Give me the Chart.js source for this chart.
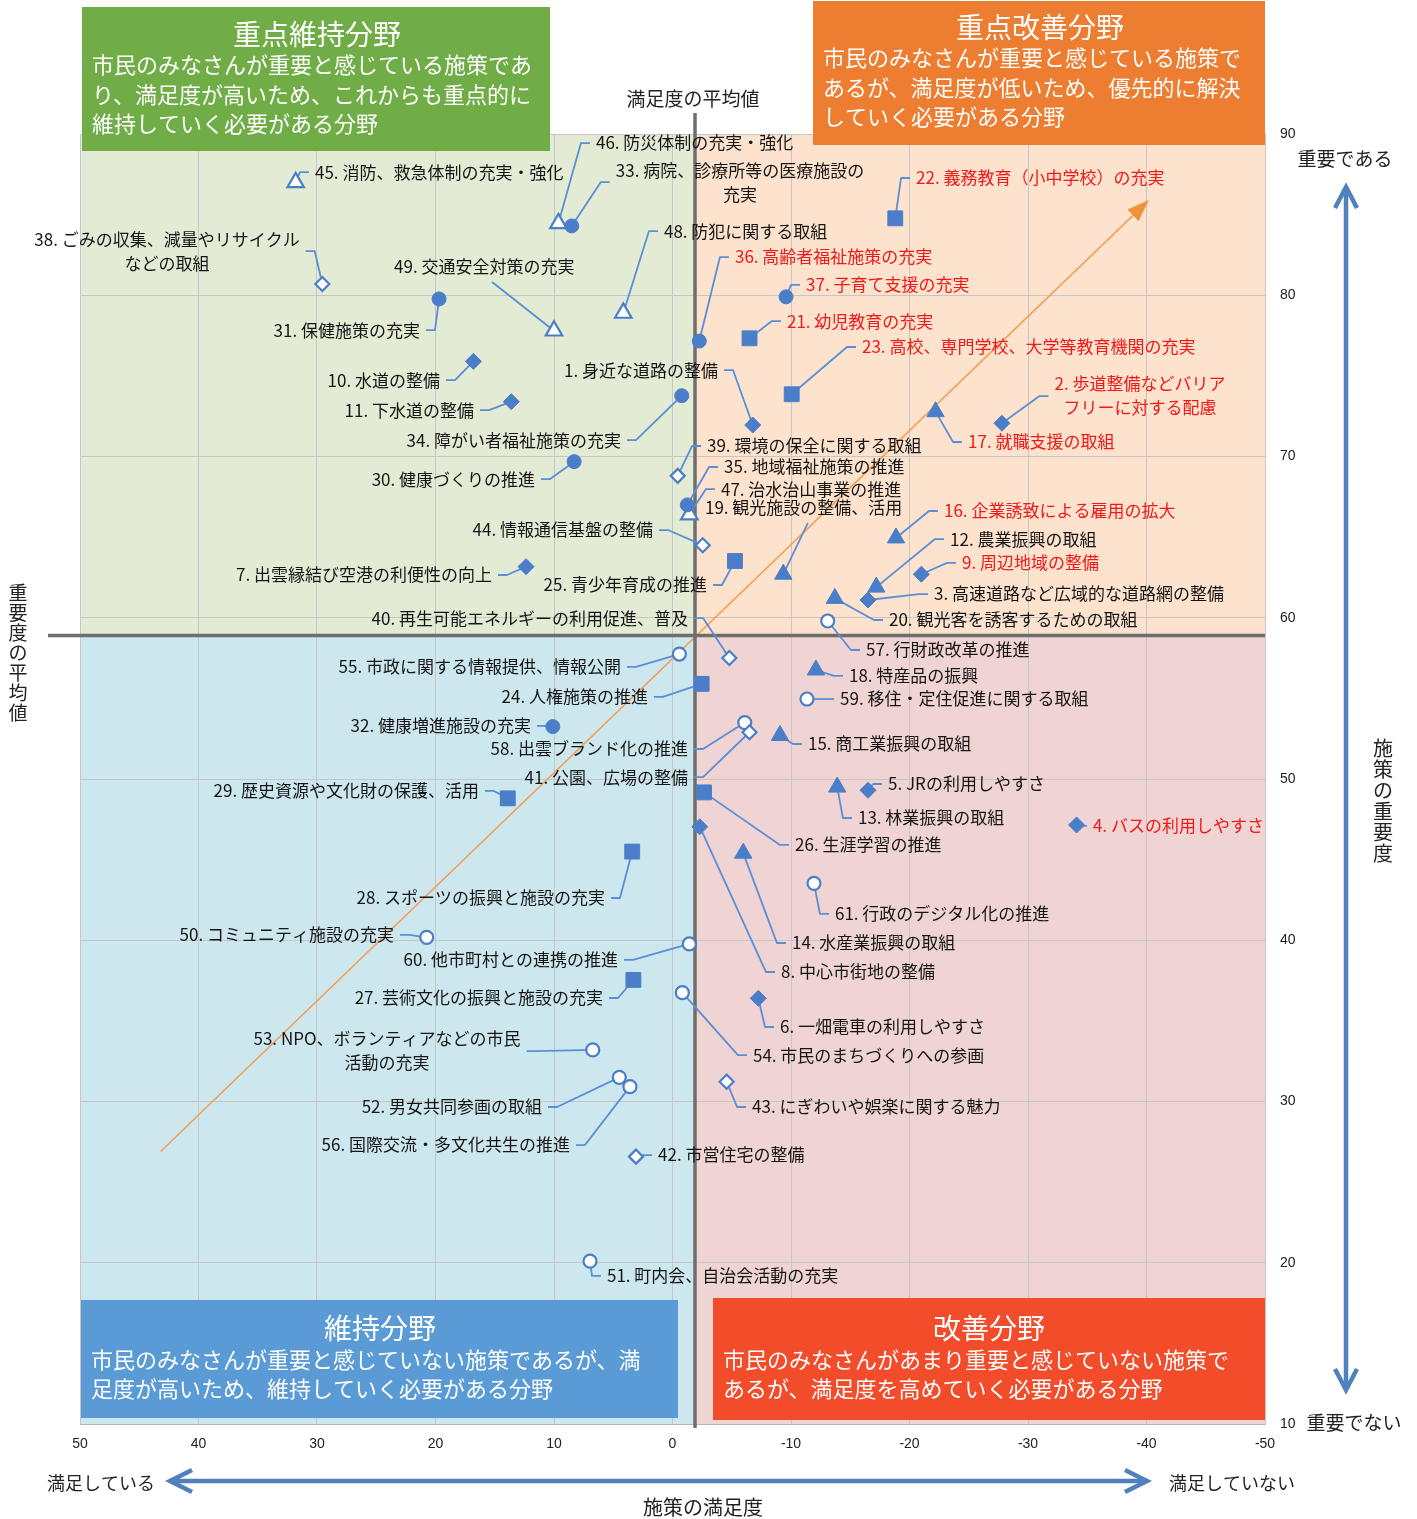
<!DOCTYPE html>
<html><head><meta charset="utf-8">
<script src="https://cdn.jsdelivr.net/npm/chart.js@4.4.1/dist/chart.umd.min.js"></script>
<style>html,body{margin:0;padding:0;background:#fff}#wrap{width:1417px;height:1519px;position:relative}</style>
</head><body><div id="wrap"><canvas id="c" width="1417" height="1519"></canvas></div>
<script>
// ---------- DATA ----------
const ids = Array.from({length: 61}, (_, k) => k + 1);
const names = [
 '身近な道路の整備','歩道整備などバリア\nフリーに対する配慮','高速道路など広域的な道路網の整備','バスの利用しやすさ','JRの利用しやすさ',
 '一畑電車の利用しやすさ','出雲縁結び空港の利便性の向上','中心市街地の整備','周辺地域の整備','水道の整備','下水道の整備',
 '農業振興の取組','林業振興の取組','水産業振興の取組','商工業振興の取組','企業誘致による雇用の拡大','就職支援の取組','特産品の振興',
 '観光施設の整備、活用','観光客を誘客するための取組',
 '幼児教育の充実','義務教育（小中学校）の充実','高校、専門学校、大学等教育機関の充実','人権施策の推進','青少年育成の推進','生涯学習の推進',
 '芸術文化の振興と施設の充実','スポーツの振興と施設の充実','歴史資源や文化財の保護、活用',
 '健康づくりの推進','保健施策の充実','健康増進施設の充実','病院、診療所等の医療施設の\n充実','障がい者福祉施策の充実','地域福祉施策の推進',
 '高齢者福祉施策の充実','子育て支援の充実',
 'ごみの収集、減量やリサイクル\nなどの取組','環境の保全に関する取組','再生可能エネルギーの利用促進、普及','公園、広場の整備','市営住宅の整備',
 'にぎわいや娯楽に関する魅力','情報通信基盤の整備',
 '消防、救急体制の充実・強化','防災体制の充実・強化','治水治山事業の推進','防犯に関する取組','交通安全対策の充実',
 'コミュニティ施設の充実','町内会、自治会活動の充実','男女共同参画の取組','NPO、ボランティアなどの市民\n活動の充実','市民のまちづくりへの参画',
 '市政に関する情報提供、情報公開','国際交流・多文化共生の推進','行財政改革の推進','出雲ブランド化の推進','移住・定住促進に関する取組',
 '他市町村との連携の推進','行政のデジタル化の推進'
];
// 施策の満足度 (x)
const satisfaction = [
 -6.77,-27.8,-16.5,-34.1,-16.5,-7.24,12.36,-2.3,-21.0,16.8,13.6,
 -17.2,-13.9,-5.97,-9.07,-18.86,-22.2,-12.1,-9.35,-13.7,
 -6.5,-18.8,-10.06,-2.46,-5.27,-2.66,3.3,3.4,13.9,
 8.3,19.7,10.1,8.5,-0.78,-1.25,-2.26,-9.58,
 29.55,-0.44,-4.8,-6.5,3.08,-4.57,-2.55,
 31.8,9.63,-1.42,4.15,10.0,
 20.74,6.96,4.49,6.73,-0.83,-0.58,3.59,-13.1,-6.1,-11.35,-1.42,-11.94
];
// 施策の重要度 (y)
const importance = [
 71.95,72.06,61.1,47.15,49.3,36.4,63.17,47.04,62.7,75.9,73.4,
 61.9,49.5,45.4,52.7,64.95,72.78,56.76,62.7,61.2,
 77.33,84.77,73.86,55.9,63.52,49.17,37.54,45.5,48.8,
 69.68,79.77,53.25,84.3,73.77,67.0,77.16,79.9,
 80.7,68.8,57.5,52.9,26.58,31.23,64.5,
 87.0,84.46,66.4,78.9,77.8,
 40.18,20.1,31.5,33.2,36.75,57.75,30.92,59.8,53.5,54.96,39.77,43.53
];
// marker group: D filled diamond, T filled triangle, S filled square, C filled circle, d/t/c hollow
const markerType = ('DDDDDDDDDDD' + 'TTTTTTTTT' + 'SSSSSSSSS' + 'CCCCCCCC' + 'ddddddd' + 'ttttt' + 'cccccccccccc').split('');
const redIds = [2,4,9,16,17,21,22,23,36,37];
const meanSatisfaction = -1.9;
const meanImportance = 58.9;
const trendX = [43.2, -40.2];
const trendY = [26.9, 85.9];
const xTickStep = 10, yTickStep = 10;

// label anchors (in data units) and alignment
const labelX = [
 -3.84,-39.45,-22.07,-35.48,-18.19,-9.07,15.23,-9.16,-24.43,19.62,16.75,
 -23.42,-15.65,-10.08,-11.43,-22.91,-24.94,-14.89,-2.74,-18.27,
 -9.66,-20.55,-15.99,2.07,-2.91,-10.34,5.86,5.70,16.33,
 11.60,21.31,11.94,-5.70,4.35,-4.35,-5.27,-11.27,
 42.66,-2.91,-1.31,-1.31,1.22,-6.71,1.65,
 30.17,6.46,-4.09,0.72,23.50,
 23.50,5.53,11.01,24.09,-6.79,4.35,8.65,-16.33,-1.31,-14.14,4.60,-13.71
];
const labelY = [
 75.36,73.75,61.47,47.09,49.69,34.62,62.65,38.03,63.40,74.74,72.88,
 64.88,47.58,39.83,52.17,66.62,70.90,56.39,66.81,59.86,
 78.40,87.27,76.79,55.09,62.03,45.91,36.42,42.62,49.26,
 68.60,77.84,53.29,87.02,71.02,69.35,82.37,80.64,
 82.74,70.65,59.98,50.12,26.68,29.66,65.44,
 87.64,89.44,67.98,83.98,81.81,
 40.33,19.18,29.66,33.13,32.88,56.95,27.30,58.0,51.86,54.96,38.78,41.63
];
const labelAlign = [
 'R','CL','L','L','L','L','R','L','L','R','R',
 'L','L','L','L','L','L','L','L','L',
 'L','L','L','R','R','L','R','R','R',
 'R','R','R','CL','R','L','L','L',
 'CR','L','R','R','L','L','R',
 'L','L','L','L','L',
 'R','L','R','CR','L','R','R','L','R','L','R','L'
];
const leaderEnd = { 19: [-11.43, 65.88], 49: [15.23, 80.82] };

// ---------- STYLE ----------
const JP = '"Noto Sans CJK JP","Noto Sans CJK SC","Noto Sans",sans-serif';
const NUM = '"Liberation Sans Narrow","Liberation Sans",Arial,sans-serif';
const BLUE = '#4a7ec8';
const LEADER = '#5a8fd6';
const LABEL_FONT = '17px ' + JP;
Chart.defaults.font.family = NUM;

const styles = {
  D:{ps:'rectRot', r:8, fill:true},
  T:{ps:'triangle', r:10, fill:true},
  S:{ps:'rect', r:10.5, fill:true},
  C:{ps:'circle', r:7, fill:true},
  d:{ps:'rectRot', r:7, fill:false},
  t:{ps:'triangle', r:9.5, fill:false},
  c:{ps:'circle', r:6.5, fill:false}
};
const datasets = Object.keys(styles).map(k => {
  const s = styles[k];
  const pts = [];
  ids.forEach((id, i) => { if (markerType[i] === k) pts.push({x: satisfaction[i], y: importance[i]}); });
  return {
    data: pts, pointStyle: s.ps, pointRadius: s.r, pointHoverRadius: s.r,
    backgroundColor: s.fill ? BLUE : '#ffffff', borderColor: BLUE,
    borderWidth: s.fill ? 1 : 2.2, showLine: false
  };
});

function layoutLabel(chart, i) {
  const {ctx, scales:{x, y}} = chart;
  ctx.font = LABEL_FONT;
  const lines = (ids[i] + '. ' + names[i]).split('\n');
  const ax = x.getPixelForValue(labelX[i]), ay = y.getPixelForValue(labelY[i]);
  const mode = labelAlign[i];
  const widths = lines.map(l => ctx.measureText(l).width);
  const w = Math.max(...widths);
  let left = mode === 'L' ? ax : mode === 'R' ? ax - w : ax - w / 2;
  const out = lines.map((l, k) => {
    const ly = ay + (k - (lines.length - 1) / 2) * 24;
    const lx = (mode === 'CL' || mode === 'CR') ? ax - widths[k] / 2 : (mode === 'R' ? ax - widths[k] : ax);
    return {t: l, x: lx, y: ly};
  });
  const px = x.getPixelForValue(satisfaction[i]), py = y.getPixelForValue(importance[i]);
  let path;
  const e = leaderEnd[ids[i]];
  if (e) path = [[px, py], [x.getPixelForValue(e[0]), y.getPixelForValue(e[1])]];
  else if (mode === 'L' || mode === 'CL') path = [[px, py], [left - 15, ay], [left - 6, ay]];
  else path = [[px, py], [left + w + 15, ay], [left + w + 6, ay]];
  return {lines: out, path};
}

function text(ctx, s, x, y, size, color, align) {
  ctx.font = size + 'px ' + JP;
  ctx.fillStyle = color;
  ctx.textAlign = align || 'center';
  ctx.textBaseline = 'middle';
  ctx.fillText(s, x, y);
}
function vtext(ctx, s, x, y0, step, size, color) {
  [...s].forEach((ch, k) => text(ctx, ch, x, y0 + k * step, size, color, 'center'));
}
function box(ctx, x, y, w, h, color, title, tx, ty, lines, lx, ly0, step) {
  ctx.fillStyle = color;
  ctx.fillRect(x, y, w, h);
  text(ctx, title, tx, ty, 28, '#fff', 'center');
  lines.forEach((l, k) => text(ctx, l, lx, ly0 + k * step, 22, '#fff', 'left'));
}
function chevronLine(ctx, x1, y1, x2, y2, arm, spread) {
  ctx.beginPath(); ctx.moveTo(x1, y1); ctx.lineTo(x2, y2); ctx.stroke();
  const ang = Math.atan2(y2 - y1, x2 - x1);
  [[x1, y1, ang + Math.PI], [x2, y2, ang]].forEach(([tx, ty, a]) => {
    ctx.beginPath();
    ctx.moveTo(tx - arm * Math.cos(a) - spread * Math.sin(a), ty - arm * Math.sin(a) + spread * Math.cos(a));
    ctx.lineTo(tx, ty);
    ctx.lineTo(tx - arm * Math.cos(a) + spread * Math.sin(a), ty - arm * Math.sin(a) - spread * Math.cos(a));
    ctx.stroke();
  });
}

const deco = {
  id: 'deco',
  beforeDraw(chart) {
    const {ctx, chartArea: a, scales: {x, y}} = chart;
    ctx.save();
    ctx.fillStyle = '#fff'; ctx.fillRect(0, 0, chart.width, chart.height);
    const mx = x.getPixelForValue(meanSatisfaction), my = y.getPixelForValue(meanImportance);
    ctx.fillStyle = '#e3ebd5'; ctx.fillRect(a.left, a.top, mx - a.left, my - a.top);
    ctx.fillStyle = '#fde3cd'; ctx.fillRect(mx, a.top, a.right - mx, my - a.top);
    ctx.fillStyle = '#cde7ef'; ctx.fillRect(a.left, my, mx - a.left, a.bottom - my);
    ctx.fillStyle = '#f0d3d3'; ctx.fillRect(mx, my, a.right - mx, a.bottom - my);
    ctx.restore();
  },
  beforeDatasetsDraw(chart) {
    const {ctx, chartArea: a, scales: {x, y}} = chart;
    ctx.save();
    // trend line
    const x1 = x.getPixelForValue(trendX[0]), y1 = y.getPixelForValue(trendY[0]);
    const x2 = x.getPixelForValue(trendX[1]), y2 = y.getPixelForValue(trendY[1]);
    const ang = Math.atan2(y2 - y1, x2 - x1);
    ctx.strokeStyle = '#f2a05a'; ctx.lineWidth = 1.6;
    ctx.beginPath(); ctx.moveTo(x1, y1); ctx.lineTo(x2 - 18 * Math.cos(ang), y2 - 18 * Math.sin(ang)); ctx.stroke();
    ctx.fillStyle = '#f0923a';
    ctx.beginPath();
    ctx.moveTo(x2, y2);
    ctx.lineTo(x2 - 22 * Math.cos(ang) - 8 * Math.sin(ang), y2 - 22 * Math.sin(ang) + 8 * Math.cos(ang));
    ctx.lineTo(x2 - 22 * Math.cos(ang) + 8 * Math.sin(ang), y2 - 22 * Math.sin(ang) - 8 * Math.cos(ang));
    ctx.closePath(); ctx.fill();
    // mean lines
    const mx = x.getPixelForValue(meanSatisfaction), my = y.getPixelForValue(meanImportance);
    ctx.strokeStyle = '#6e6e6e'; ctx.lineWidth = 3.5;
    ctx.beginPath(); ctx.moveTo(mx, a.top - 21); ctx.lineTo(mx, a.bottom + 4); ctx.stroke();
    ctx.beginPath(); ctx.moveTo(a.left - 32, my); ctx.lineTo(a.right, my); ctx.stroke();
    // leaders
    ctx.strokeStyle = LEADER; ctx.lineWidth = 1.8; ctx.lineJoin = 'round';
    ids.forEach((id, i) => {
      const L = layoutLabel(chart, i);
      ctx.beginPath();
      L.path.forEach((p, k) => k ? ctx.lineTo(p[0], p[1]) : ctx.moveTo(p[0], p[1]));
      ctx.stroke();
    });
    ctx.restore();
  },
  afterDraw(chart) {
    const {ctx} = chart;
    ctx.save();
    // labels
    ids.forEach((id, i) => {
      const L = layoutLabel(chart, i);
      const col = redIds.includes(id) ? '#f01818' : '#151515';
      L.lines.forEach(l => text(ctx, l.t, l.x, l.y, 17, col, 'left'));
    });
    // quadrant boxes
    box(ctx, 82, 7, 468, 144, '#70ad47', '重点維持分野', 317, 34,
      ['市民のみなさんが重要と感じている施策であ', 'り、満足度が高いため、これからも重点的に', '維持していく必要がある分野'], 92, 65, 29.5);
    box(ctx, 813, 1, 452, 144, '#ed7d31', '重点改善分野', 1040, 27,
      ['市民のみなさんが重要と感じている施策で', 'あるが、満足度が低いため、優先的に解決', 'していく必要がある分野'], 823, 58, 29.5);
    box(ctx, 81, 1300, 597, 118, '#5b9bd5', '維持分野', 380, 1328,
      ['市民のみなさんが重要と感じていない施策であるが、満', '足度が高いため、維持していく必要がある分野'], 91, 1360, 29);
    box(ctx, 713, 1298, 552, 122, '#f24c2b', '改善分野', 989, 1328,
      ['市民のみなさんがあまり重要と感じていない施策で', 'あるが、満足度を高めていく必要がある分野'], 723, 1360, 29);
    // axis annotations
    text(ctx, '満足度の平均値', 693, 99, 19, '#222', 'center');
    vtext(ctx, '重要度の平均値', 18, 593, 20, 19, '#222');
    text(ctx, '重要である', 1345, 159, 19, '#222', 'center');
    text(ctx, '重要でない', 1354, 1423, 19, '#222', 'center');
    vtext(ctx, '施策の重要度', 1383, 748, 21, 20, '#222');
    text(ctx, '満足している', 101, 1483, 18, '#222', 'center');
    text(ctx, '満足していない', 1232, 1483, 18, '#222', 'center');
    text(ctx, '施策の満足度', 703, 1507, 20, '#222', 'center');
    // arrows
    ctx.strokeStyle = '#4f81bd'; ctx.lineWidth = 4.5; ctx.lineCap = 'butt'; ctx.lineJoin = 'miter';
    chevronLine(ctx, 1346, 187, 1346, 1390, 21, 11);
    chevronLine(ctx, 170, 1481, 1147, 1481, 22, 11);
    ctx.restore();
  }
};

new Chart(document.getElementById('c'), {
  type: 'scatter',
  data: { datasets },
  options: {
    responsive: false, animation: false, events: [],
    layout: { padding: { left: 80, top: 134, right: 92, bottom: 55 } },
    plugins: { legend: { display: false }, tooltip: { enabled: false } },
    scales: {
      x: {
        type: 'linear', reverse: true, min: -50, max: 50, position: 'bottom',
        ticks: { stepSize: xTickStep, font: { size: 14, family: NUM }, color: '#222', padding: 12 },
        grid: { color: '#c6c6c6', lineWidth: 1, drawTicks: false },
        border: { display: true, color: '#b5b5b5' },
        afterFit(s) { s.height = 40; }
      },
      y: {
        type: 'linear', position: 'right', min: 10, max: 90,
        ticks: { stepSize: yTickStep, font: { size: 14, family: NUM }, color: '#222', padding: 15 },
        grid: { color: '#c6c6c6', lineWidth: 1, drawTicks: false },
        border: { display: true, color: '#c6c6c6' },
        afterFit(s) { s.width = 60; }
      }
    }
  },
  plugins: [deco]
});
</script>
</body></html>
